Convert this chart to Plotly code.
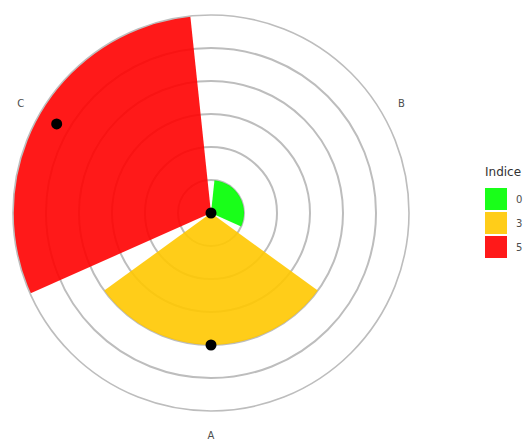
import plotly.graph_objects as go

categories = ["A", "B", "C"]
indice = [3, 0, 5]            # bar value per category (radial axis starts at -1)
point_r = [3, -1, 4.4]        # black dot radial value per category
legend_levels = [0, 3, 5]
colour_of = {0: "#00FF00", 3: "#FFC800", 5: "#FF0000"}
radial_ticks = [0, 1, 2, 3, 4, 5]

fig = go.Figure()
for lvl in legend_levels:
    cats = [c for c, v in zip(categories, indice) if v == lvl]
    vals = [v for v in indice if v == lvl]
    fig.add_trace(go.Barpolar(
        theta=cats, r=[v + 1 for v in vals], base=-1, width=0.9,
        name=str(lvl), marker=dict(color=colour_of[lvl], line=dict(width=0)),
        opacity=0.9, showlegend=False,
    ))

fig.add_trace(go.Scatterpolar(
    theta=categories, r=point_r, mode="markers",
    marker=dict(color="black", size=11), showlegend=False,
))

W, H = 526, 441


def px(x):
    return x / W


def py(y):
    return 1 - y / H


# custom legend (large keys like the reference), built from legend_levels
shapes, annotations = [], []
annotations.append(dict(text="Indice", x=px(483), y=py(172), xref="paper", yref="paper",
                        xanchor="left", yanchor="middle", showarrow=False,
                        font=dict(size=12, color="#333333")))
for i, lvl in enumerate(legend_levels):
    top = 188 + i * 24
    shapes.append(dict(type="rect", xref="paper", yref="paper",
                       x0=px(485), x1=px(507), y0=py(top + 22), y1=py(top),
                       fillcolor=colour_of[lvl], opacity=0.9, line=dict(width=0)))
    annotations.append(dict(text=str(lvl), x=px(514), y=py(top + 11), xref="paper", yref="paper",
                            xanchor="left", yanchor="middle", showarrow=False,
                            font=dict(size=10, color="#4d4d4d")))

fig.update_layout(
    width=W, height=H,
    margin=dict(l=0, r=0, t=0, b=0),
    paper_bgcolor="white",
    showlegend=False,
    font=dict(family="DejaVu Sans", size=11, color="#4d4d4d"),
    shapes=shapes, annotations=annotations,
    polar=dict(
        domain=dict(x=[px(13), px(409)], y=[py(411), py(15)]),
        bgcolor="white",
        radialaxis=dict(range=[-1, 5], tickvals=radial_ticks, showticklabels=False,
                        ticks="", showline=False, gridcolor="#bdbdbd", gridwidth=1.6),
        angularaxis=dict(type="category", categoryorder="array", categoryarray=categories,
                         direction="counterclockwise", rotation=270,
                         showgrid=False, linecolor="#bdbdbd", linewidth=1.6,
                         ticks="outside", ticklen=15, tickcolor="rgba(0,0,0,0)",
                         tickfont=dict(size=10, color="#4d4d4d")),
        barmode="overlay",
    ),
)

fig.write_html("out.html", config={"displayModeBar": False},
               post_script="document.body.style.margin='0';document.body.style.overflow='hidden';")
